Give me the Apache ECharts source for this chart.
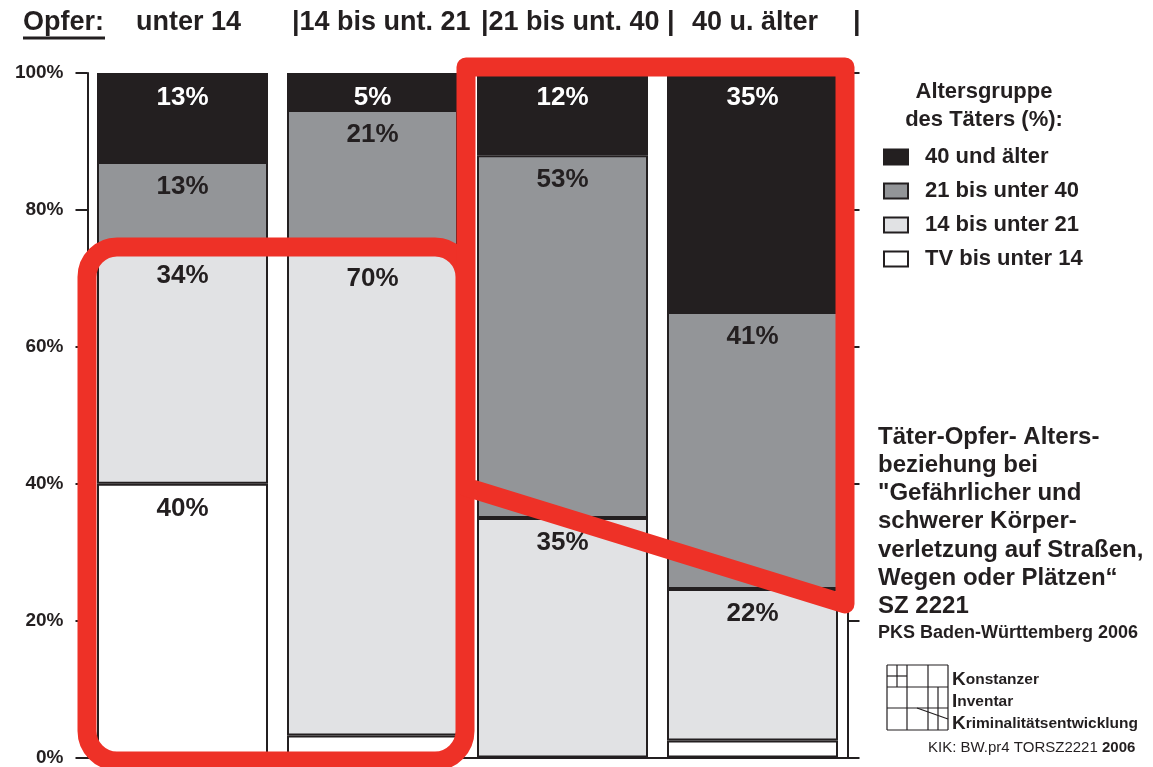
<!DOCTYPE html>
<html>
<head>
<meta charset="utf-8">
<title>Täter-Opfer-Altersbeziehung</title>
<script src="https://cdn.jsdelivr.net/npm/echarts@6/dist/echarts.min.js"></script>
<style>
    html, body { margin: 0; padding: 0; background: #fff; }
    #chart { width: 1153px; height: 767px; }
</style>
</head>
<body>
<div id="chart"></div>
<script>
// Opfer-Altersgruppen (Kategorien)
const categories = ["unter 14", "14 bis unt. 21", "21 bis unt. 40", "40 u. älter"];
// Täter-Altersgruppen, Anteile in %
const tvUnter14 = [40, 3.2, 0, 2.5];
const von14bis21 = [34, 70.4, 35, 22.1];
const von21bis40 = [13, 21, 53, 40.5];
const ab40 = [13, 5.4, 12, 34.9];
const seriesNames = ["TV bis unter 14", "14 bis unter 21", "21 bis unter 40", "40 und älter"];
const yTicks = [0, 20, 40, 60, 80, 100];

const ink = "#231f20";
const red = "#ee3127";
const font = "'Liberation Sans', Arial, sans-serif";

const colors = ["#ffffff", "#e1e2e4", "#939598", ink];
const values = [tvUnter14, von14bis21, von21bis40, ab40];

const series = seriesNames.map((name, i) => ({
    name: name,
    type: "bar",
    stack: "taeter",
    barWidth: 171,
    data: values[i],
    itemStyle: {color: colors[i], borderColor: ink, borderWidth: 2},
    label: {
        show: true,
        position: "insideTop",
        distance: 12,
        fontFamily: font,
        fontWeight: "bold",
        fontSize: 26,
        color: i === 3 ? "#ffffff" : ink,
        formatter: p => p.value < 4 ? "" : Math.round(p.value) + "%"
    }
}));

const yAxisBase = {
    type: "value",
    min: yTicks[0],
    max: yTicks[yTicks.length - 1],
    interval: yTicks[1] - yTicks[0],
    splitLine: {show: false},
    axisLine: {show: true, lineStyle: {color: ink, width: 2}},
    axisTick: {show: true, inside: false, length: 12, lineStyle: {color: ink, width: 2}}
};

// Kopfzeile "Opfer:" mit den Altersgruppen
const headText = (txt, x) => ({
    type: "text", x: x, y: 23,
    style: {text: txt, font: "bold 27px " + font, fill: ink, verticalAlign: "middle"}
});

// kleines KIK-Logo, nur Gitter
const logoLines = [];
[[887, 665, 887, 730], [948, 665, 948, 730], [887, 665, 948, 665], [887, 730, 948, 730],
 [907, 665, 907, 730], [928, 665, 928, 730], [887, 687, 948, 687], [887, 708, 948, 708],
 [897, 665, 897, 687], [938, 687, 938, 730], [887, 676, 907, 676], [917, 708, 948, 719]
].forEach(l => logoLines.push({
    type: "line", shape: {x1: l[0], y1: l[1], x2: l[2], y2: l[3]},
    style: {stroke: ink, lineWidth: 1.2}
}));

const chart = echarts.init(document.getElementById("chart"));
chart.setOption({
    backgroundColor: "#ffffff",
    animation: false,
    textStyle: {fontFamily: font},
    grid: {left: 87.5, right: 305.5, top: 73, bottom: 7},
    xAxis: {
        type: "category",
        data: categories,
        axisLine: {show: true, lineStyle: {color: ink, width: 2}},
        axisTick: {show: false},
        axisLabel: {show: false}
    },
    yAxis: [
        Object.assign({}, yAxisBase, {
            position: "left",
            axisLabel: {
                formatter: "{value}%", margin: 24, color: ink,
                fontFamily: font, fontWeight: "bold", fontSize: 19
            }
        }),
        Object.assign({}, yAxisBase, {position: "right", axisLabel: {show: false}})
    ],
    legend: {
        orient: "vertical",
        left: 878,
        top: 141,
        itemWidth: 24,
        itemHeight: 15,
        itemGap: 12,
        icon: "rect",
        data: seriesNames.slice().reverse(),
        textStyle: {fontFamily: font, fontWeight: "bold", fontSize: 22, color: ink, padding: [0, 0, 0, 12]}
    },
    series: series,
    graphic: [
        headText("Opfer:", 23),
        {type: "line", shape: {x1: 23, y1: 38, x2: 105, y2: 38}, style: {stroke: ink, lineWidth: 3}},
        headText("unter 14", 136),
        headText("|14 bis unt. 21", 292),
        headText("|21 bis unt. 40 |", 481),
        headText("40 u. älter", 692),
        headText("|", 853),
        {
            type: "text", x: 984, y: 106,
            style: {
                text: "Altersgruppe\ndes Täters (%):", font: "bold 22px " + font, fill: ink,
                align: "center", verticalAlign: "middle", lineHeight: 28
            }
        },
        {
            type: "text", x: 878, y: 423,
            style: {
                text: "Täter-Opfer- Alters-\nbeziehung bei\n\"Gefährlicher und\nschwerer Körper-\nverletzung auf Straßen,\nWegen oder Plätzen“\nSZ 2221",
                font: "bold 24px " + font, fill: ink, lineHeight: 28.2
            }
        },
        {
            type: "text", x: 878, y: 633,
            style: {text: "PKS Baden-Württemberg 2006", font: "bold 18px " + font, fill: ink, verticalAlign: "middle"}
        },
        {type: "group", children: logoLines},
        {
            type: "text", x: 952, y: 669,
            style: {
                text: "{k|K}{t|onstanzer}\n{k|I}{t|nventar}\n{k|K}{t|riminalitätsentwicklung}",
                lineHeight: 22,
                rich: {
                    k: {fontFamily: font, fontWeight: "bold", fontSize: 19, fill: ink, lineHeight: 22},
                    t: {fontFamily: font, fontWeight: "bold", fontSize: 15.5, fill: ink, lineHeight: 22}
                }
            }
        },
        {
            type: "text", x: 928, y: 748,
            style: {
                text: "{n|KIK: BW.pr4 TORSZ2221 }{b|2006}",
                verticalAlign: "middle",
                rich: {
                    n: {fontFamily: font, fontSize: 15, fill: ink},
                    b: {fontFamily: font, fontSize: 15, fontWeight: "bold", fill: ink}
                }
            }
        },
        // rote Markierungen
        {
            type: "rect", z: 100,
            shape: {x: 87, y: 247, width: 378, height: 514, r: 30},
            style: {fill: "none", stroke: red, lineWidth: 19}
        },
        {
            type: "polygon", z: 100,
            shape: {points: [[466, 67], [845, 67], [845, 604], [466, 487]]},
            style: {fill: "none", stroke: red, lineWidth: 19, lineJoin: "round"}
        }
    ]
});
</script>
</body>
</html>
